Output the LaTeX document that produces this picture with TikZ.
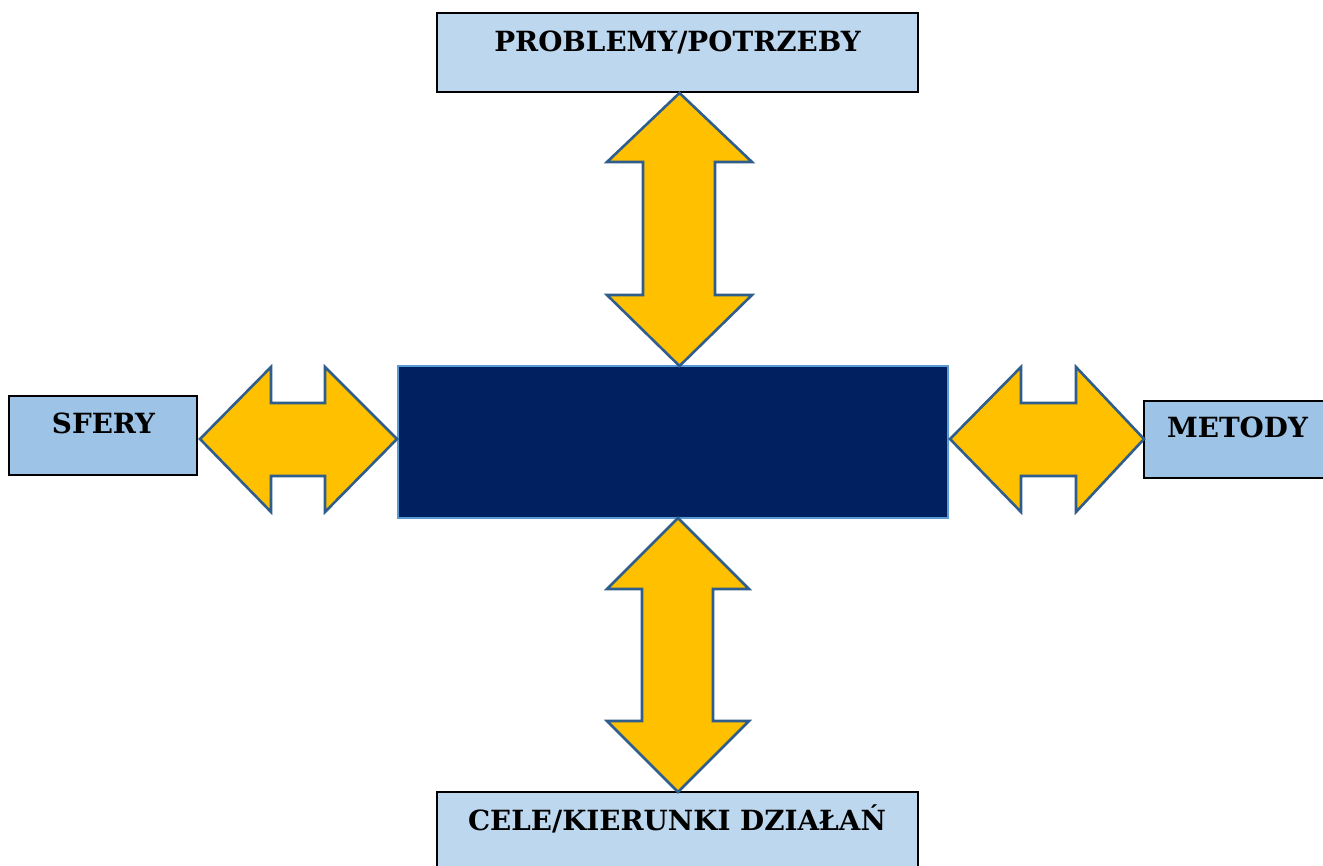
\documentclass[tikz,border=0pt]{standalone}
\usepackage{fontspec}
\setmainfont{DejaVu Serif}
\definecolor{lightbox}{HTML}{BDD7EE}
\definecolor{midbox}{HTML}{9DC3E6}
\definecolor{navy}{HTML}{002060}
\definecolor{navyedge}{HTML}{5B9BD5}
\definecolor{gold}{HTML}{FFC000}
\definecolor{arrowedge}{HTML}{2F5D8C}
\begin{document}
\begin{tikzpicture}[x=1pt,y=-1pt,
  box/.style={draw=black, line width=2pt, inner sep=0pt, outer sep=0pt},
  lbl/.style={font=\fontsize{27.8}{32}\selectfont\bfseries, inner sep=0pt, anchor=base},
  blockarrow/.style={fill=gold, draw=arrowedge, line width=2.6pt, line join=miter}]
\useasboundingbox (0,0) rectangle (1323,866);
% boxes
\node[box, fill=lightbox, minimum width=481pt, minimum height=79pt] (prob) at (677.5,52.5) {};
\node[lbl] at (677.5,52) {PROBLEMY/POTRZEBY};
\node[box, fill=lightbox, minimum width=481pt, minimum height=80pt] (cele) at (677.5,832) {};
\node[lbl] at (677,830) {CELE/KIERUNKI DZIAŁAŃ};
\node[box, fill=midbox, minimum width=188pt, minimum height=79pt] (sfery) at (103,435.5) {};
\node[lbl] at (103.5,434) {SFERY};
\node[box, fill=midbox, minimum width=187pt, minimum height=77pt] (metody) at (1237.5,439.5) {};
\node[lbl] at (1237.5,438) {METODY};
\node[fill=navy, draw=navyedge, line width=2pt, minimum width=550pt, minimum height=152pt, inner sep=0pt] (core) at (673,442) {};
% top double arrow
\draw[blockarrow] (679.5,93) -- (752,162) -- (715,162) -- (715,295) -- (752,295) -- (679.5,366)
  -- (607,295) -- (643,295) -- (643,162) -- (607,162) -- cycle;
% bottom double arrow
\draw[blockarrow] (678,518) -- (749,589) -- (713,589) -- (713,721) -- (749,721) -- (678,792)
  -- (607,721) -- (642,721) -- (642,589) -- (607,589) -- cycle;
% left double arrow
\draw[blockarrow] (200,439) -- (271,367) -- (271,403) -- (325,403) -- (325,367) -- (397,439)
  -- (325,512) -- (325,476) -- (271,476) -- (271,512) -- cycle;
% right double arrow
\draw[blockarrow] (950,439) -- (1021,367) -- (1021,403) -- (1076,403) -- (1076,367) -- (1144,439)
  -- (1076,512) -- (1076,476) -- (1021,476) -- (1021,512) -- cycle;
\end{tikzpicture}
\end{document}
